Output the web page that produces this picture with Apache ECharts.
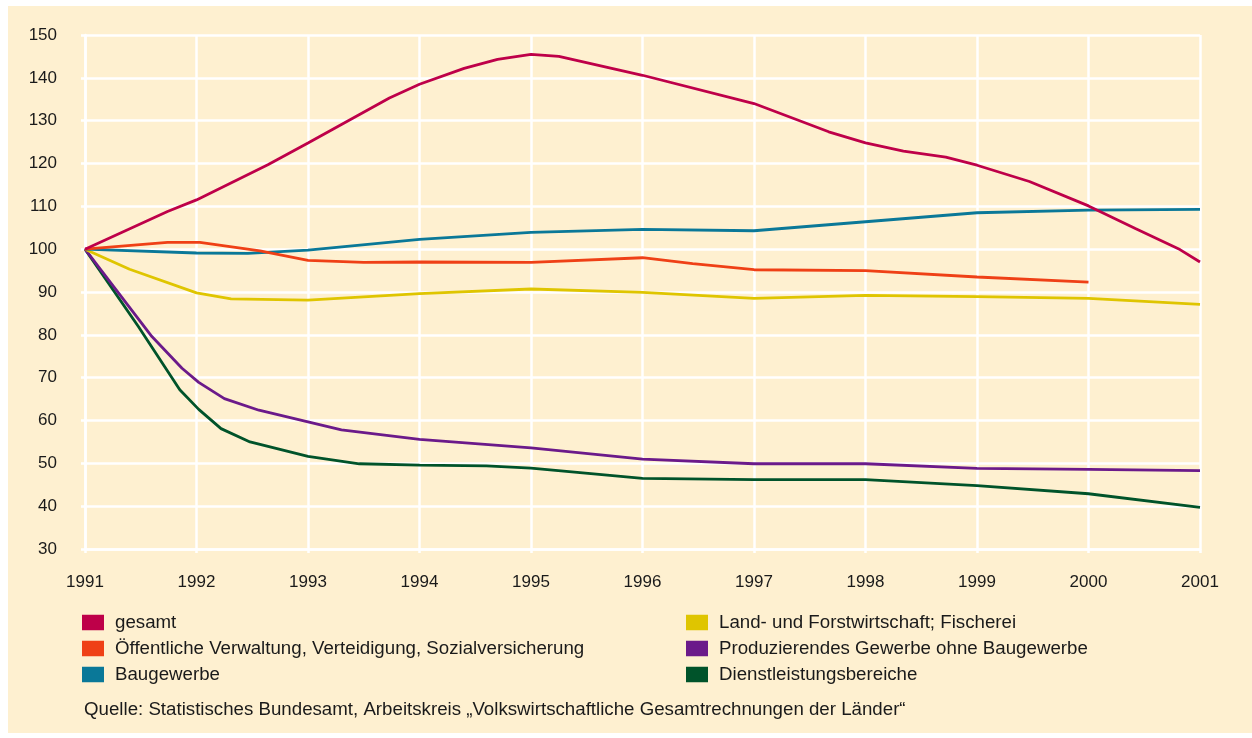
<!DOCTYPE html>
<html>
<head>
<meta charset="utf-8">
<script src="https://cdn.jsdelivr.net/npm/echarts@6/dist/echarts.min.js"></script>
<style>
html,body{margin:0;padding:0;background:#ffffff;}
#bg{position:absolute;left:8px;top:6px;width:1244px;height:727px;background:#FEF0D0;}
#chart{position:absolute;left:0;top:0;width:1252px;height:738px;}
</style>
</head>
<body>
<div id="bg"></div>
<div id="chart"></div>
<script>
// Tick labels
var yearTicks = [1991, 1992, 1993, 1994, 1995, 1996, 1997, 1998, 1999, 2000, 2001];
var valueTicks = [30, 40, 50, 60, 70, 80, 90, 100, 110, 120, 130, 140, 150];

// Series names
var seriesNames = [
  'gesamt',
  'Öffentliche Verwaltung, Verteidigung, Sozialversicherung',
  'Baugewerbe',
  'Land- und Forstwirtschaft; Fischerei',
  'Produzierendes Gewerbe ohne Baugewerbe',
  'Dienstleistungsbereiche'
];

// Values: [year, index 1991 = 100]
var gesamt = [[1991,100],[1991.74,108.8],[1992,111.5],[1992.64,119.7],[1993,124.8],[1993.73,135.3],[1994,138.5],[1994.4,142.2],[1994.7,144.3],[1995,145.5],[1995.25,145.0],[1996,140.6],[1997,134.0],[1997.67,127.4],[1998,124.8],[1998.34,122.9],[1998.72,121.5],[1999,119.6],[1999.47,115.8],[2000,110.1],[2000.42,104.8],[2000.82,99.9],[2001,97.0]];
var oeffentlich = [[1991,100],[1991.74,101.6],[1992.03,101.6],[1992.57,99.6],[1993,97.4],[1993.5,96.9],[1994,97.0],[1995,96.9],[1996,98.0],[1996.45,96.6],[1997,95.2],[1998,95.0],[1999,93.5],[2000,92.3]];
var baugewerbe = [[1991,100],[1992,99.1],[1992.46,99.0],[1993,99.8],[1994,102.3],[1995,103.9],[1996,104.6],[1997,104.3],[1998,106.4],[1999,108.5],[2000,109.1],[2001,109.3]];
var landwirtschaft = [[1991,100],[1991.4,95.3],[1992,89.8],[1992.31,88.4],[1993,88.1],[1994,89.6],[1995,90.7],[1996,89.9],[1997,88.5],[1998,89.2],[1999,88.9],[2000,88.5],[2001,87.1]];
var produzierend = [[1991,100],[1991.6,79.6],[1991.87,72.2],[1992.02,68.9],[1992.25,65.1],[1992.56,62.4],[1993,59.7],[1993.3,57.8],[1994,55.6],[1995,53.6],[1996,51.0],[1997,49.9],[1998,49.9],[1999,48.8],[2000,48.6],[2001,48.3]];
var dienstleistung = [[1991,100],[1991.48,81.9],[1991.85,67.2],[1992.02,62.6],[1992.22,58.1],[1992.48,55.0],[1993,51.6],[1993.46,49.9],[1994,49.6],[1994.6,49.4],[1995,48.9],[1996,46.5],[1997,46.2],[1998,46.2],[1999,44.8],[2000,42.9],[2001,39.7]];

var seriesData = [gesamt, oeffentlich, baugewerbe, landwirtschaft, produzierend, dienstleistung];
var colors = ['#BE0049', '#EF4016', '#0A7898', '#DFC500', '#6B1A8A', '#00532A'];

var FONT = '"Liberation Sans", Arial, sans-serif';
var TXT = '#1a1a1a';

var chart = echarts.init(document.getElementById('chart'), null, {renderer: 'canvas'});

var series = seriesData.map(function (d, i) {
  return {
    name: seriesNames[i],
    type: 'line',
    data: d,
    symbol: 'none',
    smooth: false,
    lineStyle: {color: colors[i], width: 2.8},
    itemStyle: {color: colors[i]},
    z: 10 - i
  };
});

var legendCommon = {
  orient: 'vertical',
  icon: 'rect',
  itemWidth: 22,
  itemHeight: 15.5,
  itemGap: 7,
  padding: 0,
  selectedMode: false,
  textStyle: {fontFamily: FONT, fontSize: 18.7, color: TXT, padding: [0, 0, 0, 6]}
};

chart.setOption({
  backgroundColor: 'transparent',
  animation: false,
  color: colors,
  textStyle: {fontFamily: FONT},
  grid: {left: 85, right: 52, top: 35, bottom: 189, containLabel: false},
  xAxis: {
    type: 'value',
    min: yearTicks[0],
    max: yearTicks[yearTicks.length - 1],
    interval: 1,
    axisLine: {show: true, lineStyle: {color: '#ffffff', width: 2.5}},
    axisTick: {show: true, length: 4, lineStyle: {color: '#ffffff', width: 2.5}},
    splitLine: {show: true, lineStyle: {color: '#ffffff', width: 2.5}},
    axisLabel: {
      color: TXT, fontSize: 17, fontFamily: FONT, margin: 25,
      formatter: function (v) { var i = yearTicks.indexOf(Math.round(v)); return i >= 0 ? String(yearTicks[i]) : ''; }
    }
  },
  yAxis: {
    type: 'value',
    min: valueTicks[0],
    max: valueTicks[valueTicks.length - 1],
    interval: 10,
    axisLine: {show: true, lineStyle: {color: '#ffffff', width: 2.5}},
    axisTick: {show: true, length: 4, lineStyle: {color: '#ffffff', width: 2.5}},
    splitLine: {show: true, lineStyle: {color: '#ffffff', width: 2.5}},
    axisLabel: {
      color: TXT, fontSize: 17, fontFamily: FONT, margin: 28,
      formatter: function (v) { return String(v); }
    }
  },
  legend: [
    Object.assign({}, legendCommon, {left: 82, top: 613, data: seriesNames.slice(0, 3)}),
    Object.assign({}, legendCommon, {left: 686, top: 613, data: seriesNames.slice(3, 6)})
  ],
  graphic: [{
    type: 'text',
    left: 84,
    top: 700,
    style: {
      text: 'Quelle: Statistisches Bundesamt, Arbeitskreis „Volkswirtschaftliche Gesamtrechnungen der Länder“',
      fill: TXT,
      font: '18.7px "Liberation Sans", Arial, sans-serif'
    }
  }],
  series: series
});
</script>
</body>
</html>
